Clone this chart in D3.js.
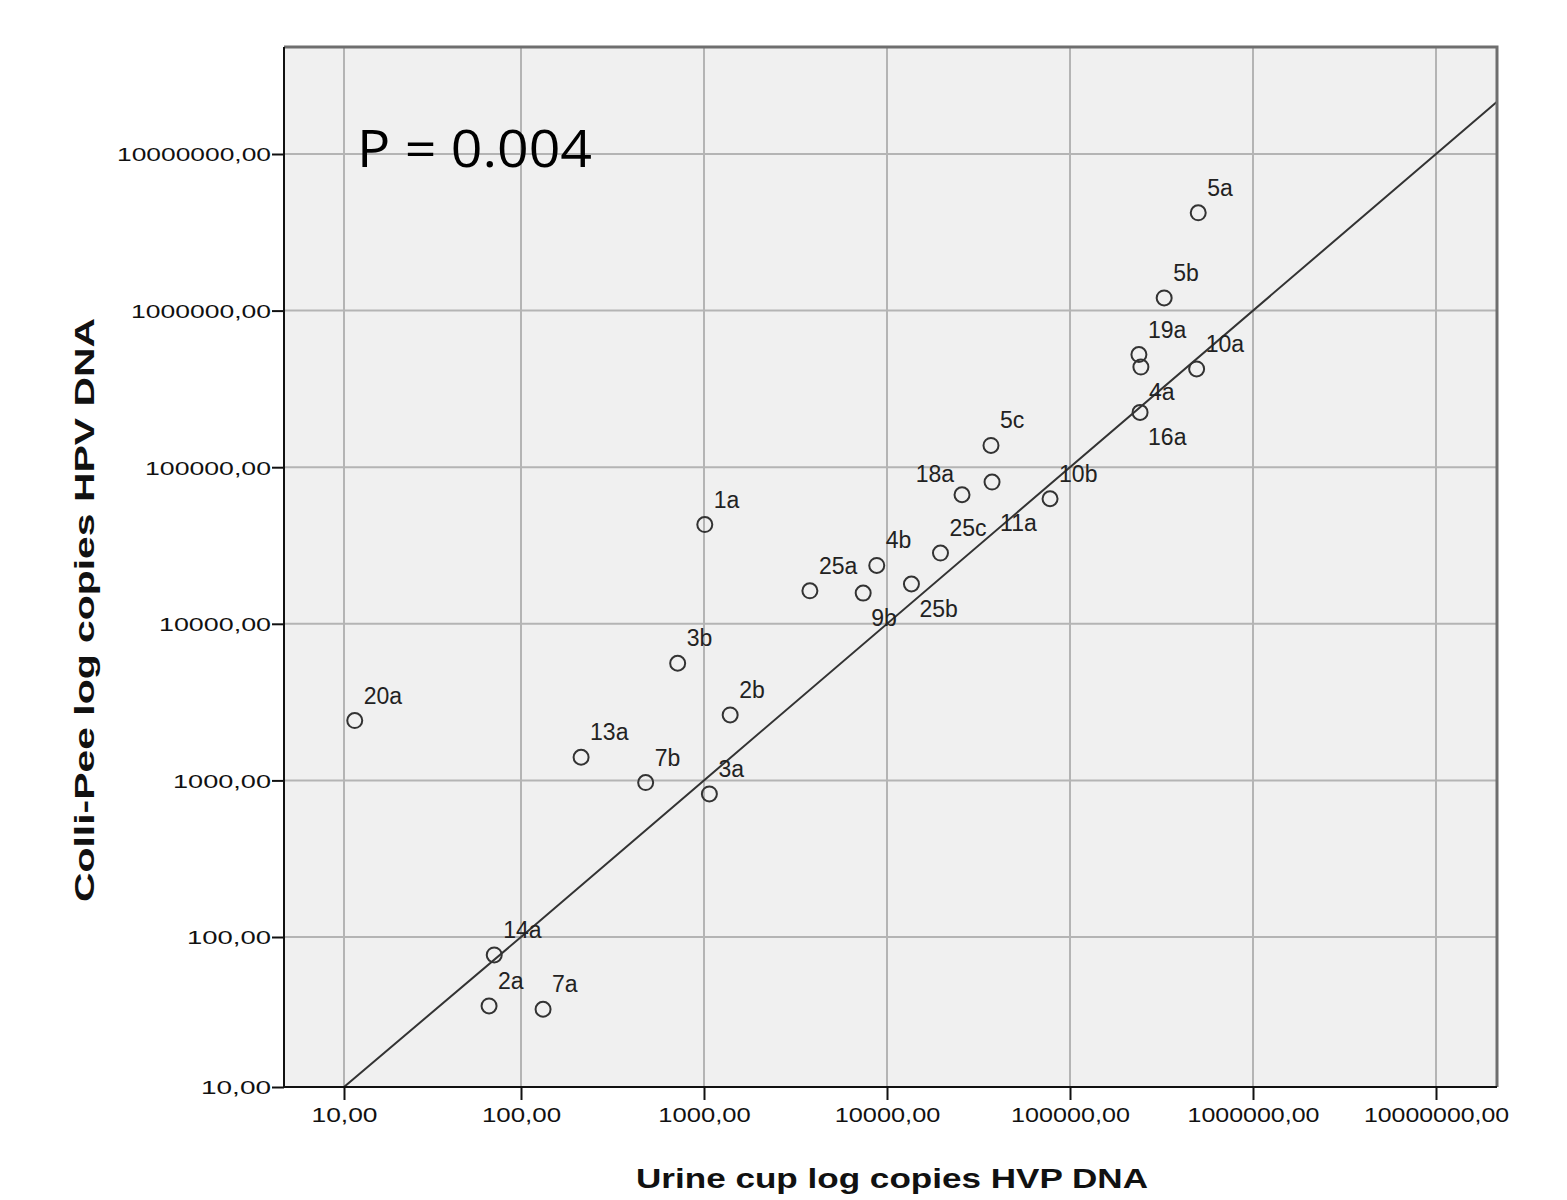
<!DOCTYPE html>
<html>
<head>
<meta charset="utf-8">
<script src="https://cdn.jsdelivr.net/npm/d3@7/dist/d3.min.js"></script>
<style>
  body { margin: 0; background: #fff; }
  svg { display: block; }
  .tick text { font-family: "Liberation Sans", Arial, sans-serif; fill: #111; }
</style>
</head>
<body>
<svg id="chart" width="1567" height="1200"></svg>
<script>
// sample labels and copies
var labels = ["1a", "2a", "2b", "3a", "3b", "4a", "4b", "5a", "5b", "5c",
              "7a", "7b", "9b", "10a", "10b", "11a", "13a", "14a", "16a",
              "18a", "19a", "20a", "25a", "25b", "25c"];
var urineCup = [1010, 66, 1390, 1070, 718, 244000, 8790, 502000, 327000, 37000,
                132, 480, 7410, 492000, 77800, 37500, 213, 70.6, 241500,
                25700, 238000, 11.5, 3790, 13600, 19600];
var colliPee = [43000, 34.7, 2620, 820, 5600, 436000, 23600, 4210000, 1205000, 137700,
                33, 968, 15700, 424000, 62900, 80400, 1406, 75.9, 223900,
                66700, 524000, 2410, 16250, 17950, 28300];
var tickVals = [10, 100, 1000, 10000, 100000, 1000000, 10000000];
var pText = "P = 0.004";
var xTitle = "Urine cup log copies HVP DNA";
var yTitle = "Colli-Pee log copies HPV DNA";

// label placement around a point: [dx, dy, anchor]
var place = {
    ne: [9, -17, "start"],
    se: [8, 33, "start"],
    se2: [8, 49, "start"],
    nw: [-8, -13, "end"]
};
var labelPlace = { "4a": "se", "9b": "se", "25b": "se", "16a": "se", "11a": "se2", "18a": "nw" };

// plot box (window.top is reserved, so no plain "top")
var box = { left: 284, right: 1497, top: 47, bottom: 1087 };

var svg = d3.select("#chart");

// the picture's first decade is drawn a bit shorter than the rest
var x = d3.scaleLog().domain([10, 100, 1e7]).range([344, 521, 1436]);
var y = d3.scaleLog().domain([10, 100, 1e7]).range([1087, 937, 154]);

var points = labels.map(function (l, i) {
    return { label: l, ux: urineCup[i], cp: colliPee[i] };
});

// plot background
svg.append("rect")
    .attr("x", box.left).attr("y", box.top)
    .attr("width", box.right - box.left).attr("height", box.bottom - box.top)
    .attr("fill", "#f0f0f0");

// grid
svg.append("g").selectAll("line")
    .data(tickVals).enter()
    .append("line")
    .attr("x1", function (d) { return x(d); })
    .attr("x2", function (d) { return x(d); })
    .attr("y1", box.top).attr("y2", box.bottom)
    .attr("stroke", "#b4b4b4").attr("stroke-width", 2);

svg.append("g").selectAll("line")
    .data(tickVals).enter()
    .append("line")
    .attr("y1", function (d) { return y(d); })
    .attr("y2", function (d) { return y(d); })
    .attr("x1", box.left).attr("x2", box.right)
    .attr("stroke", "#b4b4b4").attr("stroke-width", 2);

// reference line y = x, up to the right border
var xMax = x.invert(box.right);
var diag = [10, 100, 1e7, xMax];
svg.append("path")
    .datum(diag)
    .attr("d", d3.line().x(function (d) { return x(d); }).y(function (d) { return y(d); }))
    .attr("fill", "none")
    .attr("stroke", "#333")
    .attr("stroke-width", 2);

// frame: grey top/right, black axes
svg.append("path")
    .attr("d", "M" + box.left + "," + box.top + "H" + box.right + "V" + box.bottom)
    .attr("fill", "none").attr("stroke", "#6e6e6e").attr("stroke-width", 3);
svg.append("path")
    .attr("d", "M" + box.left + "," + box.top + "V" + box.bottom + "H" + box.right)
    .attr("fill", "none").attr("stroke", "#111").attr("stroke-width", 2);

var fmt = function (d) { return d3.format("d")(d) + ",00"; };

// y axis
var yAxis = svg.append("g")
    .attr("transform", "translate(" + box.left + ",0)")
    .call(d3.axisLeft(y).tickValues(tickVals).tickFormat(fmt).tickSize(12).tickPadding(1));
yAxis.select(".domain").remove();
yAxis.selectAll(".tick line").attr("stroke", "#111").attr("stroke-width", 2);
yAxis.selectAll(".tick text")
    .attr("font-size", 19)
    .attr("dy", "0.36em")
    .attr("textLength", function (d) { return fmt(d).length * 14; })
    .attr("lengthAdjust", "spacingAndGlyphs");

// x axis
var xAxis = svg.append("g")
    .attr("transform", "translate(0," + box.bottom + ")")
    .call(d3.axisBottom(x).tickValues(tickVals).tickFormat(fmt).tickSize(13).tickPadding(8));
xAxis.select(".domain").remove();
xAxis.selectAll(".tick line").attr("stroke", "#111").attr("stroke-width", 2);
xAxis.selectAll(".tick text")
    .attr("font-size", 20)
    .attr("textLength", function (d) { return fmt(d).length * 13.2; })
    .attr("lengthAdjust", "spacingAndGlyphs");

// points
svg.append("g").selectAll("circle")
    .data(points).enter()
    .append("circle")
    .attr("cx", function (d) { return x(d.ux); })
    .attr("cy", function (d) { return y(d.cp); })
    .attr("r", 7.5)
    .attr("fill", "none")
    .attr("stroke", "#333")
    .attr("stroke-width", 2);

// point labels
svg.append("g").selectAll("text")
    .data(points).enter()
    .append("text")
    .attr("x", function (d) { return x(d.ux) + place[labelPlace[d.label] || "ne"][0]; })
    .attr("y", function (d) { return y(d.cp) + place[labelPlace[d.label] || "ne"][1]; })
    .attr("text-anchor", function (d) { return place[labelPlace[d.label] || "ne"][2]; })
    .attr("font-family", "Liberation Sans, Arial, sans-serif")
    .attr("font-size", 23)
    .attr("fill", "#222")
    .text(function (d) { return d.label; });

// P value annotation
svg.append("text")
    .attr("x", 357).attr("y", 167)
    .attr("font-family", "Open Sans, Noto Sans, sans-serif")
    .attr("font-size", 52)
    .attr("textLength", 235)
    .attr("lengthAdjust", "spacingAndGlyphs")
    .attr("fill", "#000")
    .text(pText);

// axis titles
svg.append("text")
    .attr("x", (636 + 1148) / 2).attr("y", 1188)
    .attr("text-anchor", "middle")
    .attr("font-family", "Liberation Sans, Arial, sans-serif")
    .attr("font-weight", "bold")
    .attr("font-size", 27)
    .attr("textLength", 512)
    .attr("lengthAdjust", "spacingAndGlyphs")
    .attr("fill", "#111")
    .text(xTitle);

svg.append("text")
    .attr("transform", "translate(94," + (318 + 902) / 2 + ") rotate(-90)")
    .attr("text-anchor", "middle")
    .attr("font-family", "Liberation Sans, Arial, sans-serif")
    .attr("font-weight", "bold")
    .attr("font-size", 27)
    .attr("textLength", 584)
    .attr("lengthAdjust", "spacingAndGlyphs")
    .attr("fill", "#111")
    .text(yTitle);
</script>
</body>
</html>
